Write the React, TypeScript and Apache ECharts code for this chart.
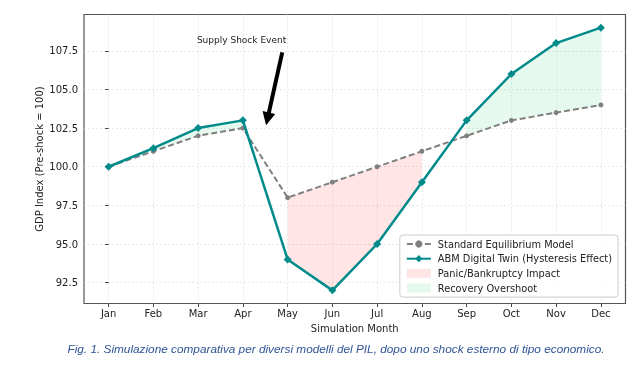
import React, { useEffect, useRef } from "react";
import * as echarts from "echarts";

const months = ["Jan", "Feb", "Mar", "Apr", "May", "Jun", "Jul", "Aug", "Sep", "Oct", "Nov", "Dec"];
const standardModel = [100, 101, 102, 102.5, 98, 99, 100, 101, 102, 103, 103.5, 104];
const abmModel = [100, 101.2, 102.5, 103, 94, 92, 95, 99, 103, 106, 108, 109];
const yTicks = [92.5, 95, 97.5, 100, 102.5, 105, 107.5];
const panicRanges = [[4, 7]];
const recoveryRanges = [[0, 3], [8, 11]];

const FONT = "DejaVu Sans";

export default function App() {
  const ref = useRef<HTMLDivElement>(null);
  useEffect(() => {
    if (!ref.current) return;
    const chart = echarts.init(ref.current, null, { renderer: "svg" });
    const xIdx = months.map((_, i) => i);
    const fillRender = (color: string) => (params: any, api: any) => {
      const s = api.value(0);
      const e = api.value(1);
      const pts: number[][] = [];
      for (let i = s; i <= e; i++) pts.push(api.coord([i, abmModel[i]]));
      for (let i = e; i >= s; i--) pts.push(api.coord([i, standardModel[i]]));
      return { type: "polygon", shape: { points: pts }, style: { fill: color } };
    };
    const red = "rgba(255,0,0,0.1)";
    const green = "rgba(0,200,90,0.1)";
    chart.setOption({
      animation: false,
      textStyle: { fontFamily: FONT },
      grid: {
        left: 84, top: 14.5, right: 17.5, bottom: 62.5,
        show: true, borderColor: "#555", borderWidth: 1.2, backgroundColor: "transparent",
      },
      xAxis: {
        type: "value", min: -0.55, max: 11.55,
        name: "Simulation Month", nameLocation: "middle", nameGap: 18,
        nameTextStyle: { fontSize: 10, color: "#222", fontFamily: FONT },
        axisLine: { show: false },
        axisTick: { show: true, customValues: xIdx, length: 3.5, lineStyle: { color: "#444" } },
        axisLabel: {
          customValues: xIdx, fontSize: 10, color: "#222", margin: 5, fontFamily: FONT,
          formatter: (v: number) => months[Math.round(v)] ?? "",
        },
        splitLine: { show: true, lineStyle: { color: "#e2e2e2", type: [2, 2], width: 0.8 } },
      },
      yAxis: {
        type: "value", min: 91.15, max: 109.85,
        name: "GDP Index (Pre-shock = 100)", nameLocation: "middle", nameGap: 40,
        nameMoveOverlap: false,
        nameTextStyle: { fontSize: 10, color: "#222", fontFamily: FONT },
        axisLine: { show: false },
        axisTick: { show: true, customValues: yTicks, length: 3.5, lineStyle: { color: "#444" } },
        axisLabel: {
          customValues: yTicks, fontSize: 10, color: "#222", margin: 6, fontFamily: FONT,
          formatter: (v: number) => v.toFixed(1),
        },
        splitLine: { show: true, lineStyle: { color: "#e2e2e2", type: [2, 2], width: 0.8 } },
      },
      legend: {
        orient: "vertical", right: 25, top: 235,
        padding: [4, 6, 4, 6], itemGap: 4.7, itemWidth: 24, itemHeight: 9,
        backgroundColor: "rgba(255,255,255,0.85)", borderColor: "#ccc", borderWidth: 1, borderRadius: 3,
        textStyle: { fontSize: 9.8, color: "#222", fontFamily: FONT, padding: [0, 0, 0, 2] },
        data: [
          { name: "Standard Equilibrium Model" },
          { name: "ABM Digital Twin (Hysteresis Effect)" },
          { name: "Panic/Bankruptcy Impact", icon: "rect", itemStyle: { color: red } },
          { name: "Recovery Overshoot", icon: "rect", itemStyle: { color: green } },
        ],
      },
      series: [
        {
          name: "Panic/Bankruptcy Impact", type: "custom", z: 1, silent: true,
          renderItem: fillRender(red), itemStyle: { color: red },
          data: panicRanges, encode: { x: 0, y: 1 }, clip: true,
        },
        {
          name: "Recovery Overshoot", type: "custom", z: 1, silent: true,
          renderItem: fillRender(green), itemStyle: { color: green },
          data: recoveryRanges, encode: { x: 0, y: 1 }, clip: true,
        },
        {
          name: "Standard Equilibrium Model", type: "line", z: 3,
          data: standardModel.map((v, i) => [i, v]),
          symbol: "circle", symbolSize: 5,
          lineStyle: { color: "#808080", width: 2, type: [6, 3] },
          itemStyle: { color: "#808080" },
        },
        {
          name: "ABM Digital Twin (Hysteresis Effect)", type: "line", z: 4,
          data: abmModel.map((v, i) => [i, v]),
          symbol: "diamond", symbolSize: 8,
          lineStyle: { color: "#008b8b", width: 2.5 },
          itemStyle: { color: "#008b8b" },
          markLine: {
            silent: true, symbol: ["none", "triangle"], symbolSize: 13,
            label: { show: false },
            lineStyle: { color: "#000", width: 4, type: "solid" },
            itemStyle: { color: "#000" },
            data: [[{ coord: [3.88, 107.4] }, { coord: [3.55, 103.1] }]],
          },
          markPoint: {
            silent: true, symbol: "circle", symbolSize: 0,
            data: [{ coord: [2.97, 108.2] }],
            label: {
              show: true, position: "inside", formatter: "Supply Shock Event",
              fontSize: 9, color: "#222", fontFamily: FONT,
            },
          },
        },
      ],
      graphic: [
        {
          type: "text", x: 336, y: 349,
          style: {
            text: "Fig. 1. Simulazione comparativa per diversi modelli del PIL, dopo uno shock esterno di tipo economico.",
            fontSize: 11.8, fontStyle: "italic", fontFamily: "Liberation Sans", fill: "#2F5496",
            align: "center", verticalAlign: "middle",
          },
        },
      ],
    });
    return () => chart.dispose();
  }, []);
  return <div ref={ref} style={{ position: "fixed", left: 0, top: 0, width: 643, height: 366 }} />;
}
